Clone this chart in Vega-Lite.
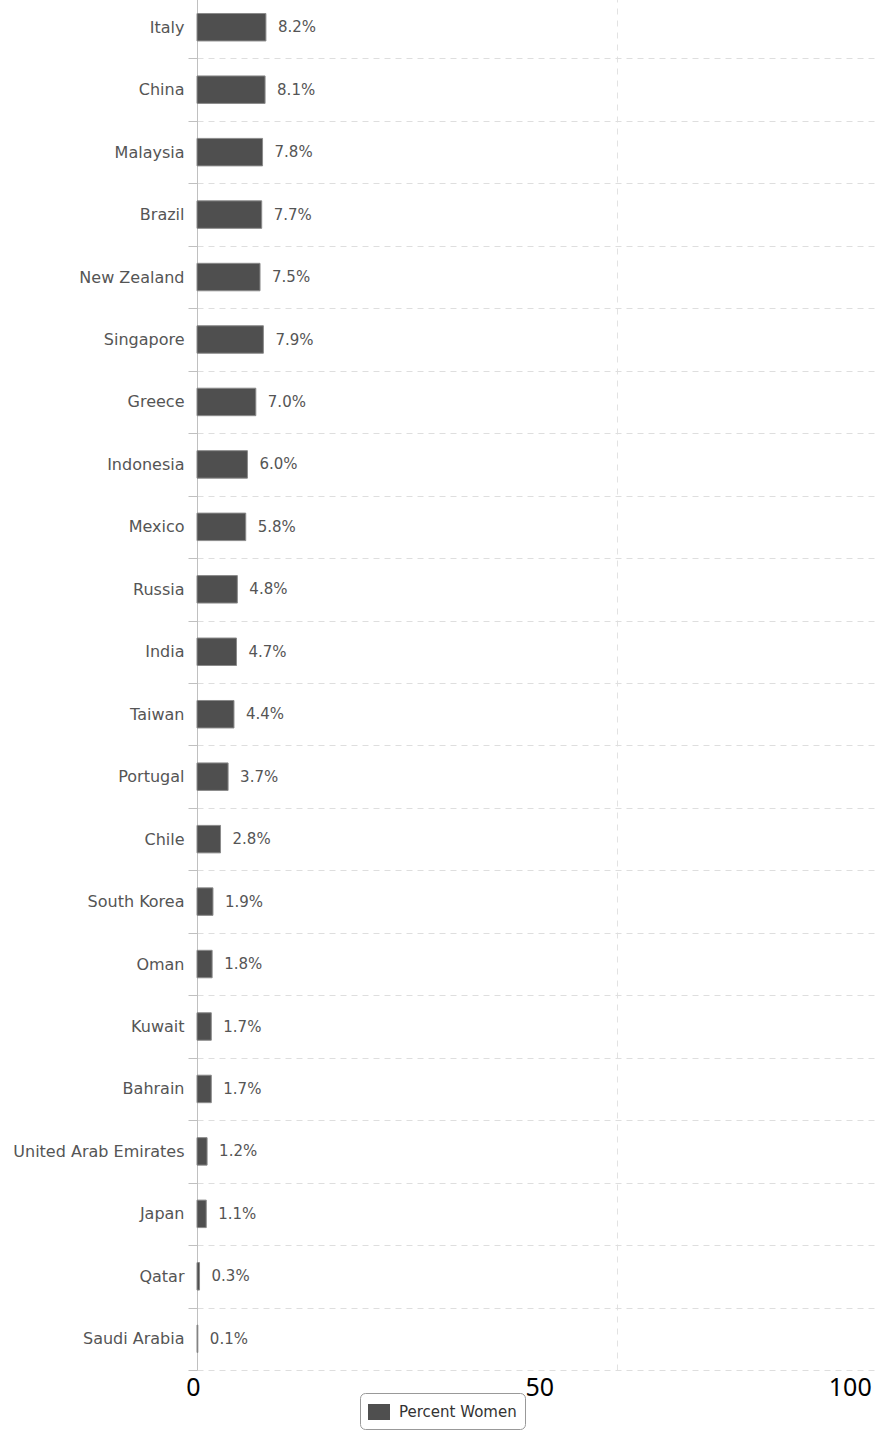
{
  "$schema": "https://vega.github.io/schema/vega-lite/v6.json",
  "width": 679,
  "height": 1374,
  "autosize": "none",
  "padding": {"left": 197, "top": -4, "right": 0, "bottom": 62},
  "background": "white",
  "config": {"view": {"stroke": null}, "font": "DejaVu Sans"},
  "data": {
    "values": [
      {"country": "Italy", "pct": 8.2, "label": "8.2%"},
      {"country": "China", "pct": 8.1, "label": "8.1%"},
      {"country": "Malaysia", "pct": 7.8, "label": "7.8%"},
      {"country": "Brazil", "pct": 7.7, "label": "7.7%"},
      {"country": "New Zealand", "pct": 7.5, "label": "7.5%"},
      {"country": "Singapore", "pct": 7.9, "label": "7.9%"},
      {"country": "Greece", "pct": 7.0, "label": "7.0%"},
      {"country": "Indonesia", "pct": 6.0, "label": "6.0%"},
      {"country": "Mexico", "pct": 5.8, "label": "5.8%"},
      {"country": "Russia", "pct": 4.8, "label": "4.8%"},
      {"country": "India", "pct": 4.7, "label": "4.7%"},
      {"country": "Taiwan", "pct": 4.4, "label": "4.4%"},
      {"country": "Portugal", "pct": 3.7, "label": "3.7%"},
      {"country": "Chile", "pct": 2.8, "label": "2.8%"},
      {"country": "South Korea", "pct": 1.9, "label": "1.9%"},
      {"country": "Oman", "pct": 1.8, "label": "1.8%"},
      {"country": "Kuwait", "pct": 1.7, "label": "1.7%"},
      {"country": "Bahrain", "pct": 1.7, "label": "1.7%"},
      {"country": "United Arab Emirates", "pct": 1.2, "label": "1.2%"},
      {"country": "Japan", "pct": 1.1, "label": "1.1%"},
      {"country": "Qatar", "pct": 0.3, "label": "0.3%"},
      {"country": "Saudi Arabia", "pct": 0.1, "label": "0.1%"}
    ]
  },
  "layer": [
    {
      "mark": {"type": "bar", "fill": "#4f4f4f", "stroke": "#8a8a8a", "strokeWidth": 1, "height": {"band": 0.44}},
      "encoding": {
        "y": {
          "field": "country", "type": "nominal", "sort": null,
          "scale": {"paddingInner": 0, "paddingOuter": 0},
          "axis": {
            "title": null, "tickBand": "extent", "grid": true, "gridDash": [6, 5], "gridColor": "#dedede",
            "tickColor": "#c0c0c0", "tickSize": 9, "domainColor": "#c0c0c0",
            "labelFontSize": 16, "labelColor": "#555555", "labelPadding": 4, "labelFont": "DejaVu Sans"
          }
        },
        "x": {
          "field": "pct", "type": "quantitative",
          "scale": {"domain": [0, 80.8], "nice": false},
          "axis": {"orient": "top", "values": [50], "labels": false, "ticks": false, "domain": false, "title": null,
                   "grid": true, "gridDash": [6, 6], "gridColor": "#e2e2e2"}
        },
        "color": {
          "datum": "Percent Women", "type": "nominal",
          "scale": {"range": ["#4f4f4f"]},
          "legend": {
            "title": null, "orient": "none", "legendX": 163, "legendY": 1397, "direction": "horizontal",
            "padding": 8, "strokeColor": "#999999", "cornerRadius": 5, "fillColor": "white",
            "symbolType": "M-1,-0.73H1V0.73H-1Z", "symbolSize": 484, "symbolStrokeWidth": 0,
            "labelFontSize": 15, "labelColor": "#333333", "labelOffset": 9, "labelFont": "DejaVu Sans"
          }
        }
      }
    },
    {
      "mark": {"type": "text", "align": "left", "baseline": "middle", "dx": 12, "fontSize": 15, "color": "#555555", "font": "DejaVu Sans"},
      "encoding": {
        "y": {"field": "country", "type": "nominal", "sort": null},
        "x": {"field": "pct", "type": "quantitative", "scale": {"domain": [0, 80.8], "nice": false}, "axis": null},
        "text": {"field": "label"}
      }
    },
    {
      "mark": {"type": "tick", "opacity": 0},
      "encoding": {
        "y": {"field": "country", "type": "nominal", "sort": null},
        "x": {
          "field": "pct", "type": "quantitative",
          "scale": {"domain": [0, 104.5], "nice": false},
          "axis": {"orient": "bottom", "values": [0, 50, 100], "title": null, "ticks": false, "domain": false, "grid": false,
                   "labelAlign": {"condition": [{"test": "datum.value === 0", "value": "right"}, {"test": "datum.value === 50", "value": "left"}], "value": "center"},
                   "labelFontSize": 25, "labelColor": "#000000", "labelFont": "Noto Sans", "labelPadding": 5, "labelOffset": 3, "labelFlush": false}
        }
      }
    }
  ],
  "resolve": {"scale": {"x": "independent"}, "axis": {"x": "independent"}}
}
